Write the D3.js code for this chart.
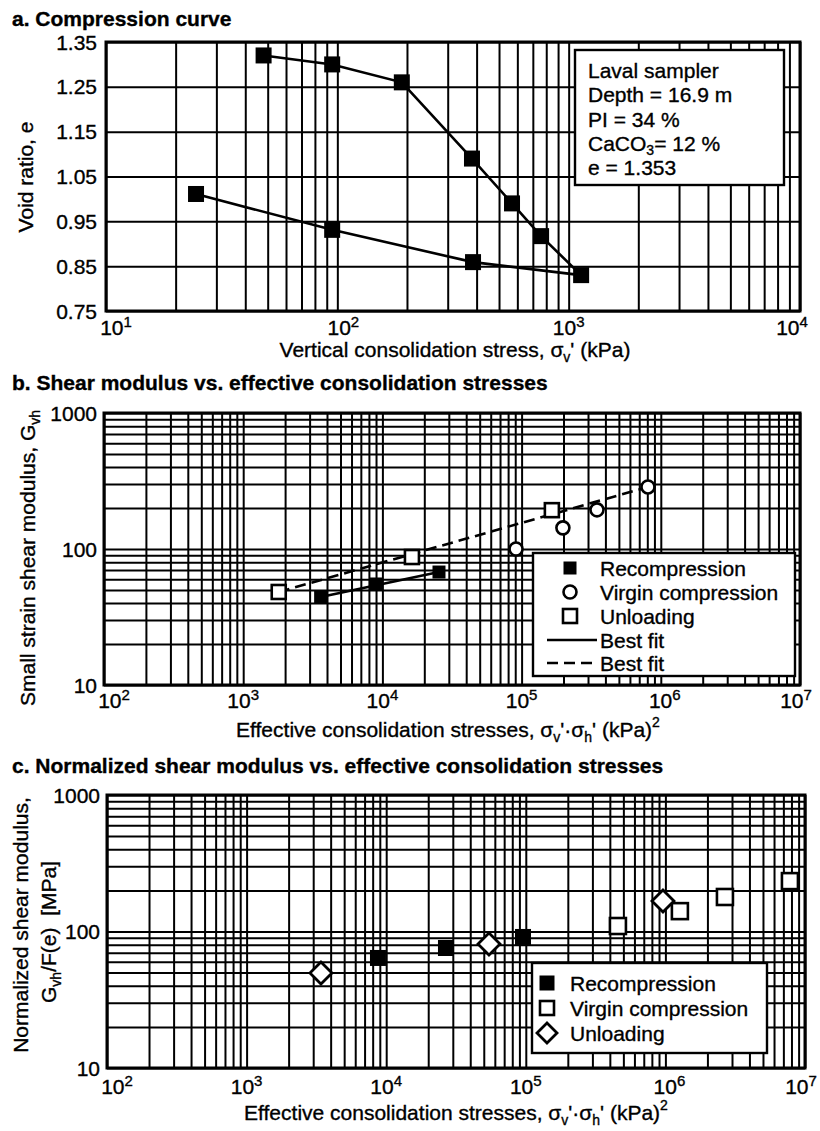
<!DOCTYPE html>
<html>
<head>
<meta charset="utf-8">
<script src="https://cdn.jsdelivr.net/npm/d3@7"></script>
<style>
  body { margin: 0; background: #fff; }
  svg { display: block; }
  text { font-family: "Liberation Sans", Arial, Helvetica, sans-serif; fill: #000; stroke: #000; stroke-width: 0.35px; }
</style>
</head>
<body>
<svg id="fig" width="820" height="1131"></svg>
<script>
// ---- a. Compression curve (loading then unloading path, in test order) ----
const stressA = [48, 95, 190, 382, 569, 760, 1132, 386, 95, 24.5];   // kPa
const voidA   = [1.32, 1.30, 1.26, 1.09, 0.99, 0.917, 0.83, 0.859, 0.931, 1.011];
const voidTicks = [0.75, 0.85, 0.95, 1.05, 1.15, 1.25, 1.35];
const voidTickLabels = ["0.75", "0.85", "0.95", "1.05", "1.15", "1.25", "1.35"];
const stressExpA = [1, 2, 3, 4];
const infoLines = ["Laval sampler", "Depth = 16.9 m", "PI = 34 %", "CaCO3= 12 %", "e = 1.353"];

// ---- b. Shear modulus vs. effective consolidation stresses ----
const recompX = [3600, 9000, 25500];
const recompG = [44.4, 55.3, 67.7];
const virginX = [91200, 198000, 348000, 809000];
const virginG = [100, 143, 194, 286];
const unloadX = [1800, 16300, 165000];
const unloadG = [48.3, 87.3, 193];
const fitSolidX = [3600, 25500];
const fitSolidG = [44.4, 67.7];
const fitDashX = [1800, 809000];
const fitDashG = [48.3, 286];

// ---- c. Normalized shear modulus ----
const recompCX = [8730, 26800, 95500];
const recompCG = [64, 75.7, 91.2];
const virginCX = [457000, 1270000, 2670000, 7800000];
const virginCG = [109.7, 141, 179, 234];
const unloadCX = [3410, 54500, 961000];
const unloadCG = [49.7, 81, 167];

const stressExpBC = [2, 3, 4, 5, 6, 7];
const modTicks = [10, 100, 1000];
const modTickLabels = ["10", "100", "1000"];

// ------------------------------------------------------------
const svg = d3.select("#fig");
const FS = 21;

function logGrid(lo, hi) {
  const out = [];
  for (let e = Math.floor(Math.log10(lo)); e <= Math.ceil(Math.log10(hi)); e++) {
    for (let m = 1; m <= 9; m++) {
      const v = m * Math.pow(10, e);
      if (v >= lo * 0.999 && v <= hi * 1.001) out.push(v);
    }
  }
  return out;
}

function gridAndFrame(g, x, y, xVals, yVals) {
  const [x0, x1] = x.range();
  const [y0, y1] = y.range();   // y0 bottom, y1 top
  g.append("g")
    .attr("transform", `translate(0,${y0})`)
    .call(d3.axisBottom(x).tickValues(xVals).tickSize(-(y0 - y1)).tickFormat(""))
    .call(s => s.select(".domain").remove())
    .selectAll("line").attr("stroke", "#000").attr("stroke-width", 2);
  g.append("g")
    .attr("transform", `translate(${x0},0)`)
    .call(d3.axisLeft(y).tickValues(yVals).tickSize(-(x1 - x0)).tickFormat(""))
    .call(s => s.select(".domain").remove())
    .selectAll("line").attr("stroke", "#000").attr("stroke-width", 2);
  g.append("rect")
    .attr("x", x0).attr("y", y1).attr("width", x1 - x0).attr("height", y0 - y1)
    .attr("fill", "none").attr("stroke", "#000").attr("stroke-width", 3);
}

function decadeLabels(g, x, exps, baseline, shifts) {
  exps.forEach((e, i) => {
    const t = g.append("text")
      .attr("x", x(Math.pow(10, e)) + (shifts[i] || 0))
      .attr("y", baseline)
      .attr("text-anchor", "middle")
      .attr("font-size", FS);
    t.append("tspan").text("10");
    t.append("tspan").attr("font-size", 15).attr("dy", -8).text(e);
  });
}

function yLabels(g, y, vals, labels, xr) {
  g.selectAll(null).data(vals).join("text")
    .attr("x", xr).attr("y", d => y(d)).attr("dy", "0.36em")
    .attr("text-anchor", "end").attr("font-size", FS)
    .text((d, i) => labels[i]);
}

function title(txt, baseline) {
  svg.append("text").attr("x", 12).attr("y", baseline)
    .attr("font-size", FS).attr("font-weight", "bold").text(txt);
}

function stressTitle(g, cx, baseline) {
  const t = g.append("text").attr("x", cx).attr("y", baseline)
    .attr("text-anchor", "middle").attr("font-size", FS);
  t.append("tspan").text("Effective consolidation stresses, σ");
  t.append("tspan").attr("font-size", 14).attr("dy", 5).text("v");
  t.append("tspan").attr("dy", -5).text("'·σ");
  t.append("tspan").attr("font-size", 14).attr("dy", 5).text("h");
  t.append("tspan").attr("dy", -5).text("' (kPa)");
  t.append("tspan").attr("font-size", 14).attr("dy", -10).text("2");
}

const sq = (g, x, y, s, fill) => g.append("rect")
  .attr("x", x - s / 2).attr("y", y - s / 2).attr("width", s).attr("height", s)
  .attr("fill", fill).attr("stroke", "#000").attr("stroke-width", fill === "#000" ? 0 : 2.6);
const circ = (g, x, y, r) => g.append("circle")
  .attr("cx", x).attr("cy", y).attr("r", r)
  .attr("fill", "#fff").attr("stroke", "#000").attr("stroke-width", 2.6);
const diam = (g, x, y, r) => g.append("path")
  .attr("d", `M${x},${y - r}L${x + r},${y}L${x},${y + r}L${x - r},${y}Z`)
  .attr("fill", "#fff").attr("stroke", "#000").attr("stroke-width", 2.8);

// ================= Panel a =================
{
  const g = svg.append("g");
  const x = d3.scaleLog().domain([10, 1e4]).range([106, 800]);
  const y = d3.scaleLinear().domain([0.75, 1.35]).range([311, 42]);
  title("a. Compression curve", 26);
  gridAndFrame(g, x, y, logGrid(10, 1e4), voidTicks);

  const pts = stressA.map((s, i) => [x(s), y(voidA[i])]);
  g.append("path").attr("d", d3.line()(pts))
    .attr("fill", "none").attr("stroke", "#000").attr("stroke-width", 2.6);
  pts.forEach(p => sq(g, p[0], p[1], 16, "#000"));

  // sample description box
  g.append("rect").attr("x", 575).attr("y", 50).attr("width", 209).attr("height", 135)
    .attr("fill", "#fff").attr("stroke", "#000").attr("stroke-width", 2.4);
  infoLines.forEach((ln, i) => {
    const t = g.append("text").attr("x", 588).attr("y", 78 + i * 24.3).attr("font-size", FS);
    if (ln.startsWith("CaCO3")) {
      t.append("tspan").text("CaCO");
      t.append("tspan").attr("font-size", 14).attr("dy", 4).text("3");
      t.append("tspan").attr("dy", -4).text(ln.slice(5));
    } else {
      t.text(ln);
    }
  });

  yLabels(g, y, voidTicks, voidTickLabels, 97);
  decadeLabels(g, x, stressExpA, 335, [10, 6, 0, -8]);

  const xt = g.append("text").attr("x", 455).attr("y", 357)
    .attr("text-anchor", "middle").attr("font-size", FS);
  xt.append("tspan").text("Vertical consolidation stress, σ");
  xt.append("tspan").attr("font-size", 14).attr("dy", 5).text("v");
  xt.append("tspan").attr("dy", -5).text("' (kPa)");

  g.append("text").attr("transform", "translate(25,177) rotate(-90)")
    .attr("dy", "0.36em").attr("text-anchor", "middle").attr("font-size", FS)
    .text("Void ratio, e");
}

// ================= Panel b =================
{
  const g = svg.append("g");
  const x = d3.scaleLog().domain([1e2, 1e7]).range([104, 800]);
  const y = d3.scaleLog().domain([10, 1000]).range([685, 413]);
  title("b. Shear modulus vs. effective consolidation stresses", 390);
  gridAndFrame(g, x, y, logGrid(1e2, 1e7), logGrid(10, 1000));

  const line = d3.line().x(d => x(d[0])).y(d => y(d[1]));
  g.append("path").attr("d", line(fitSolidX.map((v, i) => [v, fitSolidG[i]])))
    .attr("fill", "none").attr("stroke", "#000").attr("stroke-width", 2.6);
  g.append("path").attr("d", line(fitDashX.map((v, i) => [v, fitDashG[i]])))
    .attr("fill", "none").attr("stroke", "#000").attr("stroke-width", 2.6)
    .attr("stroke-dasharray", "11,6");

  recompX.forEach((v, i) => sq(g, x(v), y(recompG[i]), 13, "#000"));
  virginX.forEach((v, i) => circ(g, x(v), y(virginG[i]), 6.5));
  unloadX.forEach((v, i) => sq(g, x(v), y(unloadG[i]), 14, "#fff"));

  // legend
  g.append("rect").attr("x", 533).attr("y", 553).attr("width", 262).attr("height", 123)
    .attr("fill", "#fff").attr("stroke", "#000").attr("stroke-width", 2.4);
  const ly = [568, 592, 616, 640, 663];
  sq(g, 570, ly[0], 13, "#000");
  circ(g, 570, ly[1], 6.5);
  sq(g, 570, ly[2], 14, "#fff");
  g.append("line").attr("x1", 547).attr("x2", 597).attr("y1", ly[3]).attr("y2", ly[3])
    .attr("stroke", "#000").attr("stroke-width", 2.6);
  g.append("line").attr("x1", 547).attr("x2", 597).attr("y1", ly[4]).attr("y2", ly[4])
    .attr("stroke", "#000").attr("stroke-width", 2.6).attr("stroke-dasharray", "11,6");
  ["Recompression", "Virgin compression", "Unloading", "Best fit", "Best fit"].forEach((s, i) => {
    g.append("text").attr("x", 600).attr("y", ly[i]).attr("dy", "0.36em")
      .attr("font-size", FS).text(s);
  });

  yLabels(g, y, modTicks, modTickLabels, 97);
  decadeLabels(g, x, stressExpBC, 708, [10, 0, 0, 0, 4, -4]);
  stressTitle(g, 448, 737);

  const yt = g.append("text").attr("transform", "translate(27,558) rotate(-90)")
    .attr("dy", "0.36em").attr("text-anchor", "middle").attr("font-size", FS);
  yt.append("tspan").text("Small strain shear modulus, G");
  yt.append("tspan").attr("font-size", 14).attr("dy", 5).text("vh");
}

// ================= Panel c =================
{
  const g = svg.append("g");
  const x = d3.scaleLog().domain([1e2, 1e7]).range([107, 805]);
  const y = d3.scaleLog().domain([10, 1000]).range([1068, 795]);
  title("c. Normalized shear modulus vs. effective consolidation stresses", 773);
  gridAndFrame(g, x, y, logGrid(1e2, 1e7), logGrid(10, 1000));

  recompCX.forEach((v, i) => sq(g, x(v), y(recompCG[i]), 16, "#000"));
  virginCX.forEach((v, i) => sq(g, x(v), y(virginCG[i]), 16, "#fff"));
  unloadCX.forEach((v, i) => diam(g, x(v), y(unloadCG[i]), 11));

  g.append("rect").attr("x", 532).attr("y", 963).attr("width", 235).attr("height", 90)
    .attr("fill", "#fff").attr("stroke", "#000").attr("stroke-width", 2.4);
  const ly = [983, 1008, 1033];
  sq(g, 547, ly[0], 15, "#000");
  sq(g, 547, ly[1], 14, "#fff");
  diam(g, 547, ly[2], 10);
  ["Recompression", "Virgin compression", "Unloading"].forEach((s, i) => {
    g.append("text").attr("x", 570).attr("y", ly[i]).attr("dy", "0.36em")
      .attr("font-size", FS).text(s);
  });

  yLabels(g, y, modTicks, modTickLabels, 100);
  decadeLabels(g, x, stressExpBC, 1094, [10, 0, 0, 0, 4, -4]);
  stressTitle(g, 456, 1120);

  g.append("text").attr("transform", "translate(20,925) rotate(-90)")
    .attr("dy", "0.36em").attr("text-anchor", "middle").attr("font-size", FS)
    .text("Normalized shear modulus,");
  const yt = g.append("text").attr("transform", "translate(48,932) rotate(-90)")
    .attr("dy", "0.36em").attr("text-anchor", "middle").attr("font-size", FS);
  yt.append("tspan").text("G");
  yt.append("tspan").attr("font-size", 14).attr("dy", 5).text("vh");
  yt.append("tspan").attr("dy", -5).text("/F(e)\u00a0\u00a0[MPa]");
}
</script>
</body>
</html>
